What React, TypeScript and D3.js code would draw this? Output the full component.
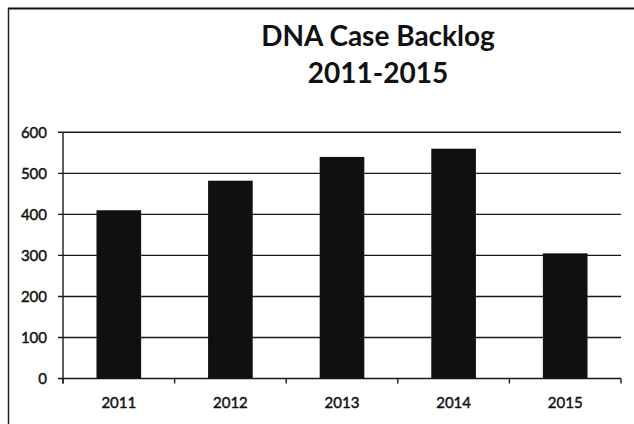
import React from "react";
import * as d3 from "d3";

const title1 = "DNA Case Backlog";
const title2 = "2011-2015";
const categories = ["2011", "2012", "2013", "2014", "2015"];
const values = [410, 482, 540, 560, 305];
const yTicks = [0, 100, 200, 300, 400, 500, 600];

const W = 634;
const H = 424;
const plot = { left: 63, right: 621, top: 132.3, bottom: 378.5 };

export default function App() {
  const x = d3
    .scaleBand<string>()
    .domain(categories)
    .range([plot.left, plot.right])
    .paddingInner(0.6)
    .paddingOuter(0.3);
  const y = d3.scaleLinear().domain([0, 600]).range([plot.bottom, plot.top]);
  const step = x.step();
  const boundaries = d3.range(categories.length + 1).map((i) => plot.left + i * step);
  const font = "Lato, 'DejaVu Sans', sans-serif";

  return (
    <svg
      width={W}
      height={H}
      style={{ position: "absolute", left: 0, top: 0, background: "#fff" }}
    >
      <rect x={0} y={0} width={W} height={H} fill="#fff" />
      {/* outer chart border (left and top visible) */}
      <line x1={8.5} x2={8.5} y1={8} y2={H} stroke="#222" strokeWidth={1.5} />
      <line x1={8} x2={W} y1={8.5} y2={8.5} stroke="#111" strokeWidth={2} />

      {/* title */}
      <text
        x={378}
        y={46}
        textAnchor="middle"
        fontFamily={font}
        fontWeight="bold"
        fontSize={28}
        fill="#111"
      >
        {title1}
      </text>
      <text
        x={378}
        y={83}
        textAnchor="middle"
        fontFamily={font}
        fontWeight="bold"
        fontSize={28}
        fill="#111"
      >
        {title2}
      </text>

      {/* gridlines */}
      {yTicks.map((t) => (
        <line
          key={"g" + t}
          x1={plot.left - 5}
          x2={plot.right}
          y1={y(t)}
          y2={y(t)}
          stroke="#1a1a1a"
          strokeWidth={1.4}
        />
      ))}

      {/* bars */}
      {categories.map((c, i) => (
        <rect
          key={c}
          x={x(c)}
          y={y(values[i])}
          width={x.bandwidth()}
          height={y(0) - y(values[i])}
          fill="#101010"
        />
      ))}

      {/* y axis */}
      <line
        x1={plot.left}
        x2={plot.left}
        y1={plot.top}
        y2={plot.bottom + 5}
        stroke="#1a1a1a"
        strokeWidth={1.4}
      />
      {yTicks.map((t) => (
        <text
          key={"yl" + t}
          x={47}
          y={y(t)}
          dy="0.35em"
          textAnchor="end"
          fontFamily={font}
          fontSize={15}
          fill="#111"
          stroke="#111"
          strokeWidth={0.45}
        >
          {t}
        </text>
      ))}

      {/* x axis ticks */}
      {boundaries.map((b, i) => (
        <line
          key={"xt" + i}
          x1={b}
          x2={b}
          y1={plot.bottom}
          y2={plot.bottom + 5}
          stroke="#1a1a1a"
          strokeWidth={1.4}
        />
      ))}
      {categories.map((c) => (
        <text
          key={"xl" + c}
          x={(x(c) as number) + x.bandwidth() / 2}
          y={408}
          textAnchor="middle"
          fontFamily={font}
          fontSize={15}
          fill="#111"
          stroke="#111"
          strokeWidth={0.45}
        >
          {c}
        </text>
      ))}
    </svg>
  );
}
